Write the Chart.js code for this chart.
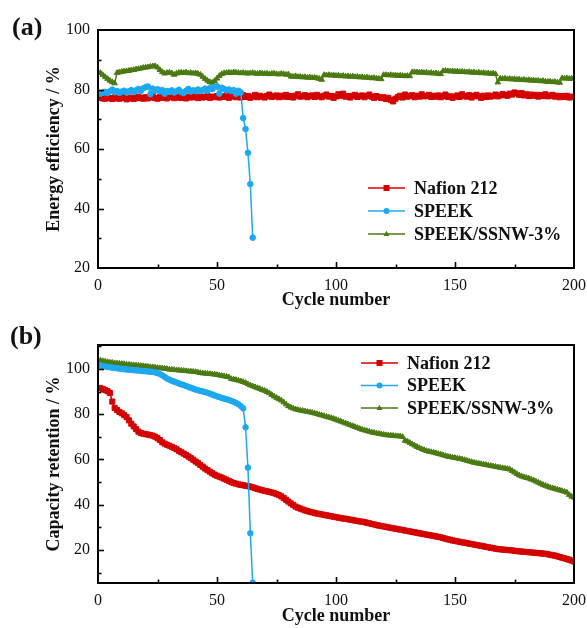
<!DOCTYPE html>
<html>
<head>
<meta charset="utf-8">
<script src="https://cdn.jsdelivr.net/npm/chart.js@4.4.1/dist/chart.umd.min.js"></script>
<style>
  body { margin: 0; background: #fff; }
  #wrap { position: relative; width: 587px; height: 628px; }
  canvas { position: absolute; left: 0; }
</style>
</head>
<body>
<div id="wrap">
  <canvas id="chartA" width="587" height="314" style="top:0"></canvas>
  <canvas id="chartB" width="587" height="314" style="top:314px"></canvas>
</div>
<script>
// (a) energy efficiency, one value per cycle starting at cycle 1
const eeNafion = [
  77.2, 77.0, 76.9, 77.3, 77.1, 76.8, 77.4, 77.0, 76.9, 77.2,
  77.5, 76.7, 77.0, 77.3, 76.8, 77.1, 77.6, 77.2, 76.9, 77.4,
  77.0, 77.3, 77.8, 77.1, 76.9, 77.5, 77.2, 77.7, 77.0, 77.4,
  77.6, 77.1, 77.3, 77.9, 77.2, 77.5, 77.0, 77.6, 77.3, 77.8,
  77.4, 77.1, 77.7, 77.3, 77.5, 77.9, 77.2, 77.6, 77.4, 77.8,
  77.3, 77.7, 77.5, 78.0, 77.2, 77.6, 77.9, 77.4, 77.7, 77.3,
  78.1, 77.5, 77.8, 77.2, 77.6, 78.2, 77.4, 77.9, 77.6, 77.3,
  77.8, 78.3, 77.5, 77.7, 78.0, 77.4, 77.9, 77.6, 78.2, 77.5,
  77.8, 77.3, 77.9, 78.4, 77.6, 77.7, 78.1, 77.4, 77.8, 78.0,
  77.5, 78.2, 77.7, 77.4, 77.9, 78.3, 77.6, 77.8, 77.2, 77.7,
  78.4, 77.9, 78.6, 77.6, 77.8, 77.3, 77.9, 78.2, 77.5, 77.7,
  78.0, 77.4, 77.8, 78.3, 77.6, 77.2, 77.8, 77.5, 77.1, 77.4,
  76.8, 77.2, 76.5, 76.0, 76.9, 77.5, 77.9, 77.3, 78.3, 77.6,
  77.8, 78.1, 77.4, 77.9, 77.6, 78.4, 77.7, 77.8, 78.2, 77.5,
  77.9, 77.6, 78.0, 77.4, 77.8, 78.3, 77.5, 77.7, 77.2, 77.6,
  78.0, 77.5, 78.4, 77.8, 77.6, 78.1, 77.3, 77.8, 78.2, 77.7,
  77.2, 77.9, 77.5, 78.0, 77.6, 77.8, 78.3, 77.7, 78.0, 78.5,
  78.1, 77.9, 78.6, 78.3, 79.0, 78.7, 78.2, 78.8, 78.0, 78.4,
  77.8, 78.3, 77.9, 78.2, 77.6, 78.1, 77.8, 78.4, 77.7, 77.9,
  78.2, 77.6, 77.9, 77.4, 77.8, 77.5, 77.9, 77.3, 77.6, 77.5
];
const eeSpeek = [
  78.6, 78.9, 79.2, 78.8, 79.4, 80.0, 79.1, 79.5, 78.9, 79.3,
  79.6, 79.0, 79.4, 79.8, 79.2, 79.7, 80.2, 79.5, 80.4, 80.8,
  81.0, 78.4, 80.3, 79.6, 80.1, 79.4, 79.8, 78.6, 79.5, 79.2,
  79.7, 79.0, 79.4, 79.9, 79.1, 78.8, 79.6, 80.2, 79.3, 79.7,
  79.5, 80.0, 79.4, 79.8, 80.3, 79.6, 80.5, 80.1, 80.8, 81.1,
  78.6, 80.6, 80.2, 79.7, 80.0, 79.5, 79.8, 78.6, 79.6, 79.0,
  70.4, 66.7, 58.7, 48.2, 30.2
];
const eeSsnw = [
  85.6, 84.9, 84.2, 83.6, 83.0, 82.5, 82.1, 85.6, 85.8, 86.0,
  86.1, 86.2, 86.3, 86.5, 86.6, 86.8, 86.9, 87.1, 87.3, 87.4,
  87.5, 87.7, 87.8, 87.9, 87.4, 86.6, 85.9, 85.4, 85.6, 85.7,
  85.5, 85.0, 85.4, 85.6, 85.7, 85.6, 85.8, 85.5, 85.6, 85.4,
  85.5, 85.3, 85.0, 84.3, 83.6, 83.0, 82.5, 82.3, 82.9, 83.7,
  84.6, 85.2, 85.5, 85.6, 85.7, 85.6, 85.8, 85.7, 85.6, 85.5,
  85.6, 85.5, 85.4, 85.5, 85.6, 85.4, 85.3, 85.5, 85.4, 85.3,
  85.4, 85.2, 85.3, 85.4, 85.2, 85.1, 85.3, 85.2, 85.0, 85.1,
  84.4, 84.3, 84.5, 84.2, 84.3, 84.1, 84.2, 84.0, 84.1, 83.9,
  84.0, 83.8, 83.6, 83.3, 84.9, 84.8, 84.9, 84.7, 84.8, 84.6,
  84.7, 84.5, 84.6, 84.4, 84.5, 84.3, 84.4, 84.2, 84.3, 84.1,
  84.2, 84.0, 84.1, 83.9, 83.8, 83.9, 83.7, 83.6, 83.5, 84.9,
  84.9, 84.8, 84.9, 84.7, 84.8, 84.6, 84.7, 84.6, 84.5, 84.6,
  84.5, 85.8, 85.9, 85.8, 85.7, 85.8, 85.6, 85.7, 85.5, 85.6,
  85.4, 85.5, 85.3, 85.2, 86.2, 86.3, 86.2, 86.1, 86.2, 86.0,
  86.1, 85.9, 86.0, 85.9, 85.8, 85.9, 85.7, 85.8, 85.6, 85.7,
  85.5, 85.6, 85.4, 85.5, 85.3, 85.4, 85.2, 82.4, 83.7, 83.6,
  83.7, 83.5, 83.6, 83.4, 83.5, 83.3, 83.4, 83.2, 83.3, 83.1,
  83.2, 83.0, 83.1, 82.9, 83.0, 82.8, 82.9, 82.7, 82.6, 82.7,
  82.5, 82.6, 82.4, 82.3, 83.8, 83.7, 83.8, 83.6, 83.7, 83.6
];

// (b) capacity retention
const crNafion = [
  91.6, 91.2, 90.7, 90.2, 89.4, 85.6, 82.8, 81.9, 81.0, 80.4,
  79.6, 78.7, 77.3, 75.8, 74.6, 73.4, 72.3, 71.7, 71.4, 71.2,
  71.0, 70.8, 70.5, 70.1, 69.4, 68.6, 67.6, 67.0, 66.5, 66.1,
  65.6, 65.1, 64.5, 63.8, 63.2, 62.6, 62.0, 61.3, 60.6, 59.9,
  59.1, 58.4, 57.6, 56.8, 56.0, 55.3, 54.6, 53.9, 53.3, 52.8,
  52.4, 52.0, 51.5, 51.0, 50.5, 50.0, 49.6, 49.3, 49.0, 48.8,
  48.6, 48.4, 48.2, 48.0, 47.7, 47.3, 47.0, 46.7, 46.4, 46.1,
  45.9, 45.7, 45.4, 45.1, 44.7, 44.3, 43.7, 43.0, 42.2, 41.4,
  40.6, 39.9, 39.2, 38.7, 38.3, 37.9, 37.5, 37.2, 36.9, 36.6,
  36.4, 36.1, 35.9, 35.7, 35.5, 35.3, 35.1, 34.9, 34.7, 34.5,
  34.3, 34.1, 33.9, 33.8, 33.6, 33.4, 33.2, 33.0, 32.8, 32.6,
  32.5, 32.3, 32.0, 31.8, 31.5, 31.3, 31.0, 30.8, 30.6, 30.4,
  30.2, 30.0, 29.8, 29.6, 29.4, 29.2, 29.0, 28.8, 28.6, 28.4,
  28.2, 28.0, 27.8, 27.6, 27.4, 27.2, 27.0, 26.8, 26.6, 26.4,
  26.2, 26.0, 25.8, 25.6, 25.3, 25.0, 24.7, 24.5, 24.2, 24.0,
  23.8, 23.6, 23.4, 23.2, 23.0, 22.8, 22.6, 22.4, 22.2, 22.0,
  21.8, 21.6, 21.4, 21.2, 21.0, 20.8, 20.6, 20.4, 20.3, 20.2,
  20.1, 20.0, 19.9, 19.8, 19.6, 19.5, 19.4, 19.3, 19.2, 19.1,
  19.0, 18.9, 18.8, 18.7, 18.6, 18.5, 18.4, 18.3, 18.1, 17.9,
  17.7, 17.5, 17.2, 16.9, 16.6, 16.3, 16.0, 15.7, 15.3, 14.9
];
const crSpeek = [
  101.5, 101.3, 101.1, 100.9, 100.8, 100.6, 100.5, 100.3, 100.2, 100.0,
  99.9, 99.8, 99.7, 99.6, 99.5, 99.4, 99.3, 99.2, 99.1, 99.0,
  98.9, 98.8, 98.7, 98.5, 98.2, 97.8, 97.2, 96.5, 95.8, 95.3,
  94.8, 94.4, 94.0, 93.6, 93.2, 92.9, 92.5, 92.1, 91.7, 91.3,
  90.9, 90.6, 90.3, 90.1, 89.8, 89.5, 89.1, 88.7, 88.3, 87.9,
  87.6, 87.2, 86.9, 86.6, 86.3, 85.9, 85.5, 85.0, 84.4, 83.6,
  82.6, 74.2, 56.4, 27.4, 5.6
];
const crSsnw = [
  103.8, 103.5, 103.3, 103.1, 102.9, 102.8, 102.6, 102.5, 102.4, 102.3,
  102.2, 102.0, 101.9, 101.8, 101.7, 101.6, 101.5, 101.4, 101.3, 101.2,
  101.0, 100.9, 100.8, 100.7, 100.5, 100.4, 100.3, 100.2, 100.0, 99.8,
  99.7, 99.6, 99.5, 99.4, 99.3, 99.2, 99.1, 99.0, 98.9, 98.8,
  98.7, 98.5, 98.3, 98.1, 98.0, 97.9, 97.8, 97.7, 97.6, 97.4,
  97.2, 97.0, 96.8, 96.6, 96.4, 95.6, 95.4, 95.2, 94.9, 94.6,
  94.3, 93.9, 93.3, 92.8, 92.4, 92.0, 91.6, 91.2, 90.8, 90.4,
  89.9, 89.3, 88.6, 87.9, 87.3, 86.7, 86.1, 85.3, 84.4, 83.6,
  83.0, 82.6, 82.2, 81.9, 81.7, 81.5, 81.3, 81.1, 80.9, 80.7,
  80.4, 80.1, 79.8, 79.5, 79.2, 78.9, 78.6, 78.3, 78.0, 77.6,
  77.2, 76.8, 76.4, 76.0, 75.6, 75.2, 74.8, 74.4, 74.0, 73.6,
  73.2, 72.9, 72.6, 72.3, 72.0, 71.8, 71.6, 71.4, 71.2, 71.0,
  70.8, 70.7, 70.6, 70.5, 70.4, 70.3, 70.2, 70.0, 68.3, 68.0,
  67.4, 66.8, 66.2, 65.6, 65.1, 64.6, 64.2, 63.8, 63.5, 63.3,
  63.1, 62.8, 62.5, 62.2, 61.9, 61.6, 61.3, 61.1, 60.9, 60.7,
  60.5, 60.3, 60.1, 59.8, 59.5, 59.2, 58.9, 58.6, 58.4, 58.2,
  58.0, 57.8, 57.6, 57.4, 57.2, 57.0, 56.8, 56.6, 56.4, 56.2,
  56.0, 55.9, 55.6, 55.0, 54.3, 53.6, 53.0, 52.5, 52.2, 51.9,
  51.6, 51.2, 50.8, 50.3, 49.8, 49.3, 48.8, 48.4, 48.0, 47.6,
  47.3, 47.0, 46.7, 46.4, 46.1, 45.8, 45.4, 44.4, 43.6, 43.2
];

const seriesNames = ["Nafion 212", "SPEEK", "SPEEK/SSNW-3%"];
const xTicks = [0, 50, 100, 150, 200];

const RED = "#d40000";
const BLUE = "#1ea8f0";
const GREEN = "#4a7a12";
const FONT = "'Liberation Serif', 'Times New Roman', serif";

Chart.defaults.font.family = FONT;
Chart.defaults.color = "#111";

function toPoints(values) {
  return values.map((v, i) => ({ x: i + 1, y: v }));
}

function drawMarker(ctx, style, x, y, r) {
  ctx.beginPath();
  if (style === "rect") {
    ctx.rect(x - r, y - r, 2 * r, 2 * r);
  } else if (style === "circle") {
    ctx.arc(x, y, r, 0, Math.PI * 2);
  } else {
    ctx.moveTo(x, y - r * 1.1);
    ctx.lineTo(x + r, y + r * 0.7);
    ctx.lineTo(x - r, y + r * 0.7);
    ctx.closePath();
  }
  ctx.fill();
}

// frame, inward ticks, legend and panel letter
const decorPlugin = {
  id: "decor",
  afterDraw(chart, args, opts) {
    const ctx = chart.ctx;
    const area = chart.chartArea;
    const xs = chart.scales.x;
    const ys = chart.scales.y;
    ctx.save();
    ctx.strokeStyle = "#000";
    ctx.lineWidth = 1.6;
    xs.ticks.forEach(t => {
      if (t.value <= xs.min || t.value >= xs.max) return;
      const px = Math.round(xs.getPixelForValue(t.value)) + 0.5;
      const len = xTicks.includes(t.value) ? 6 : 3.5;
      ctx.beginPath();
      ctx.moveTo(px, area.bottom);
      ctx.lineTo(px, area.bottom - len);
      ctx.stroke();
    });
    ys.ticks.forEach(t => {
      if (t.value <= ys.min + 0.5 || t.value >= ys.max - 0.5) return;
      const py = Math.round(ys.getPixelForValue(t.value)) + 0.5;
      const len = t.value % 20 === 0 ? 6 : 3.5;
      ctx.beginPath();
      ctx.moveTo(area.left, py);
      ctx.lineTo(area.left + len, py);
      ctx.stroke();
    });
    ctx.lineWidth = 2;
    ctx.strokeRect(area.left, area.top, area.right - area.left, area.bottom - area.top);

    // legend
    ctx.font = "bold 18px " + FONT;
    ctx.textBaseline = "middle";
    ctx.textAlign = "left";
    chart.data.datasets.forEach((ds, i) => {
      const y = opts.legendY[i];
      ctx.strokeStyle = ds.borderColor;
      ctx.lineWidth = 1.5;
      ctx.beginPath();
      ctx.moveTo(opts.legendX1, y);
      ctx.lineTo(opts.legendX2, y);
      ctx.stroke();
      ctx.fillStyle = ds.borderColor;
      drawMarker(ctx, ds.pointStyle, (opts.legendX1 + opts.legendX2) / 2, y, 3);
      ctx.fillStyle = "#111";
      ctx.fillText(ds.label, opts.legendTextX, y + 1);
    });

    ctx.font = "bold 26px " + FONT;
    ctx.fillStyle = "#111";
    ctx.fillText(opts.panel, opts.panelX, opts.panelY);
    ctx.restore();
  }
};

function makeChart(canvasId, sets, cfg) {
  const datasets = [
    { label: seriesNames[0], data: toPoints(sets[0]), borderColor: RED, backgroundColor: RED,
      pointStyle: "rect", pointRadius: 3.6, order: 1 },
    { label: seriesNames[1], data: toPoints(sets[1]), borderColor: BLUE, backgroundColor: BLUE,
      pointStyle: "circle", pointRadius: 2.8, order: 0 },
    { label: seriesNames[2], data: toPoints(sets[2]), borderColor: GREEN, backgroundColor: GREEN,
      pointStyle: "triangle", pointRadius: 3.2, order: 2 }
  ];
  datasets.forEach(d => {
    d.borderWidth = 1.5;
    d.pointBorderWidth = 1;
    d.pointBackgroundColor = d.borderColor;
    d.pointBorderColor = d.borderColor;
    d.tension = 0;
  });

  return new Chart(document.getElementById(canvasId), {
    type: "line",
    data: { datasets: datasets },
    options: {
      responsive: false,
      animation: false,
      events: [],
      layout: { padding: { left: 0, right: 13, top: cfg.top, bottom: 0 } },
      plugins: {
        legend: { display: false },
        tooltip: { enabled: false },
        decor: cfg.decor
      },
      scales: {
        x: {
          type: "linear",
          min: 0,
          max: 200,
          grid: { display: false, drawTicks: false },
          border: { display: false },
          ticks: {
            stepSize: 25,
            autoSkip: false,
            maxRotation: 0,
            padding: 8,
            font: { size: 16 },
            callback: v => (xTicks.includes(v) ? v : "")
          },
          title: {
            display: true,
            text: "Cycle number",
            font: { size: 18, weight: "bold" },
            padding: { top: 0, bottom: cfg.xTitlePad }
          },
          afterFit: s => {
            s.height = cfg.xAxisH;
            s.paddingLeft = 0;
            s.paddingRight = 0;
          }
        },
        y: {
          min: cfg.yMin,
          max: cfg.yMax,
          grid: { display: false, drawTicks: false },
          border: { display: false },
          ticks: {
            stepSize: 10,
            includeBounds: false,
            padding: 8,
            font: { size: 16 },
            callback: v => (v % 20 === 0 ? v : "")
          },
          title: {
            display: true,
            text: cfg.yTitle,
            font: { size: 18, weight: "bold" },
            padding: { top: 44, bottom: 0 }
          },
          afterFit: s => {
            s.width = 98;
            s.paddingTop = 0;
            s.paddingBottom = 0;
          }
        }
      }
    },
    plugins: [decorPlugin]
  });
}

makeChart("chartA", [eeNafion, eeSpeek, eeSsnw], {
  top: 30, xAxisH: 46, xTitlePad: 3, yMin: 20, yMax: 100,
  yTitle: "Energy efficiency / %",
  decor: { legendY: [188, 211, 234], legendX1: 368, legendX2: 405, legendTextX: 414,
           panel: "(a)", panelX: 12, panelY: 28 }
});

makeChart("chartB", [crNafion, crSpeek, crSsnw], {
  top: 31, xAxisH: 45, xTitlePad: 1, yMin: 5.4, yMax: 110.6,
  yTitle: "Capacity retention / %",
  decor: { legendY: [49, 71.5, 94], legendX1: 361, legendX2: 398, legendTextX: 407,
           panel: "(b)", panelX: 10, panelY: 23 }
});
</script>
</body>
</html>
